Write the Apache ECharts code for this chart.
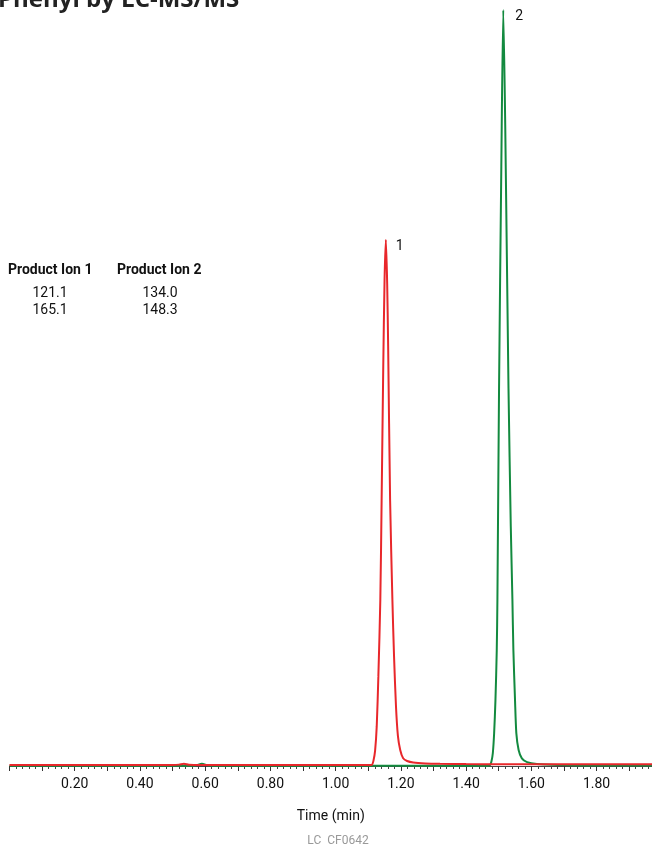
<!DOCTYPE html>
<html>
<head>
<meta charset="utf-8">
<script src="https://cdn.jsdelivr.net/npm/echarts@6/dist/echarts.min.js"></script>
<style>
html,body{margin:0;padding:0;background:#fff;}
#chart{width:652px;height:846px;}
</style>
</head>
<body>
<div id="chart"></div>
<script>
// Retention time (min) and relative response (%)
var ion1Time = [0, 0.10, 0.20, 0.30, 0.40, 0.50, 0.52, 0.535, 0.55, 0.60, 0.70, 0.80, 0.90, 1.00, 1.05, 1.10,
  1.111, 1.116, 1.121, 1.126, 1.131, 1.137, 1.141, 1.146, 1.150, 1.154, 1.158, 1.161, 1.167, 1.174, 1.179,
  1.185, 1.191, 1.198, 1.207, 1.219, 1.238, 1.275, 1.32, 1.40, 1.50, 1.60, 1.70, 1.80, 1.90, 1.97];
var ion1Value = [0.12, 0.12, 0.12, 0.13, 0.12, 0.13, 0.18, 0.3, 0.16, 0.13, 0.12, 0.13, 0.12, 0.12, 0.12, 0.12,
  0.15, 0.7, 2.0, 5.2, 11.7, 21.7, 34.7, 52.2, 63.5, 68.7, 63.0, 54.8, 34.7, 21.7, 14.4,
  7.8, 3.9, 2.1, 1.0, 0.65, 0.45, 0.33, 0.28, 0.25, 0.24, 0.23, 0.22, 0.24, 0.22, 0.22];

var ion2Time = [0, 0.10, 0.20, 0.30, 0.40, 0.50, 0.57, 0.59, 0.61, 0.70, 0.80, 0.90, 1.00, 1.10, 1.20, 1.30, 1.40, 1.46,
  1.468, 1.474, 1.478, 1.482, 1.486, 1.490, 1.494, 1.496, 1.501, 1.508, 1.514, 1.520, 1.530, 1.537, 1.542,
  1.545, 1.550, 1.554, 1.561, 1.571, 1.587, 1.617, 1.689, 1.75, 1.80, 1.90, 1.97];
var ion2Value = [0.02, 0.02, 0.02, 0.02, 0.02, 0.02, 0.08, 0.28, 0.08, 0.02, 0.02, 0.02, 0.02, 0.02, 0.02, 0.02, 0.02, 0.02,
  0.03, 0.13, 0.65, 1.7, 4.3, 8.6, 15.1, 21.7, 49.3, 78.3, 98.7, 83.6, 49.3, 31.3, 21.7,
  15.1, 8.6, 4.3, 2.1, 1.0, 0.5, 0.26, 0.13, 0.08, 0.06, 0.05, 0.05];

var peakLabels = ['1', '2'];
var ionTableHeader = ['Product Ion 1', 'Product Ion 2'];
var ion1Masses = ['121.1', '165.1'];
var ion2Masses = ['134.0', '148.3'];

function pairs(t, v) { return t.map(function (x, i) { return [x, v[i]]; }); }
function apex(t, v) { var m = 0; for (var i = 1; i < v.length; i++) if (v[i] > v[m]) m = i; return [t[m], v[m]]; }

var fontFam = 'Roboto, "Noto Sans", sans-serif';
var chart = echarts.init(document.getElementById('chart'), null, {renderer: 'canvas'});

chart.setOption({
  animation: false,
  backgroundColor: '#fff',
  grid: {left: 9.5, right: 0, top: 0, bottom: 80, containLabel: false},
  xAxis: {
    type: 'value', min: 0, max: 1.97, interval: 0.1,
    name: 'Time (min)', nameLocation: 'middle', nameGap: 43,
    nameTextStyle: {fontFamily: fontFam, fontSize: 14, color: '#111'},
    axisLine: {show: true, onZero: false, lineStyle: {color: '#444', width: 1}},
    axisTick: {show: true, length: 5, lineStyle: {color: '#333', width: 1}},
    minorTick: {show: true, splitNumber: 5, length: 3, lineStyle: {color: '#444', width: 1}},
    splitLine: {show: false},
    axisLabel: {
      showMinLabel: false, showMaxLabel: false, margin: 11,
      fontFamily: fontFam, fontSize: 14, color: '#111',
      formatter: function (v) {
        var k = Math.round(v * 10);
        return (k > 0 && k % 2 === 0) ? v.toFixed(2) : '';
      }
    }
  },
  yAxis: {type: 'value', min: 0, max: 100, show: false},
  series: [
    {
      type: 'line', name: 'Ion 2', data: pairs(ion2Time, ion2Value), showSymbol: false,
      smooth: 0.25, z: 3,
      lineStyle: {color: '#138a3f', width: 2},
      markPoint: {
        symbol: 'circle', symbolSize: 0,
        data: [{coord: apex(ion2Time, ion2Value), value: peakLabels[1]}],
        label: {show: true, position: 'right', offset: [7, 7], fontFamily: fontFam, fontSize: 14, color: '#111',
          formatter: function (p) { return p.value; }}
      }
    },
    {
      type: 'line', name: 'Ion 1', data: pairs(ion1Time, ion1Value), showSymbol: false,
      smooth: 0.25, z: 4,
      lineStyle: {color: '#e8272b', width: 2},
      markPoint: {
        symbol: 'circle', symbolSize: 0,
        data: [{coord: apex(ion1Time, ion1Value), value: peakLabels[0]}],
        label: {show: true, position: 'right', offset: [5, 7], fontFamily: fontFam, fontSize: 14, color: '#111',
          formatter: function (p) { return p.value; }}
      }
    }
  ],
  graphic: [
    {type: 'text', left: -2, top: -12, z: 10,
      style: {text: 'Phenyl by LC-MS/MS', font: 'bold 24px "Open Sans", sans-serif', fill: '#222'}},
    {type: 'text', left: 8, top: 263,
      style: {text: ionTableHeader[0], font: 'bold 14px ' + fontFam, fill: '#111'}},
    {type: 'text', left: 117, top: 263,
      style: {text: ionTableHeader[1], font: 'bold 14px ' + fontFam, fill: '#111'}},
    {type: 'text', x: 50, y: 293, style: {text: ion1Masses[0], font: '14px ' + fontFam, fill: '#111', align: 'center', verticalAlign: 'middle'}},
    {type: 'text', x: 50, y: 310, style: {text: ion1Masses[1], font: '14px ' + fontFam, fill: '#111', align: 'center', verticalAlign: 'middle'}},
    {type: 'text', x: 160, y: 293, style: {text: ion2Masses[0], font: '14px ' + fontFam, fill: '#111', align: 'center', verticalAlign: 'middle'}},
    {type: 'text', x: 160, y: 310, style: {text: ion2Masses[1], font: '14px ' + fontFam, fill: '#111', align: 'center', verticalAlign: 'middle'}},
    {type: 'text', x: 338, y: 841, style: {text: 'LC  CF0642', font: '12px ' + fontFam, fill: '#999', align: 'center', verticalAlign: 'middle'}}
  ]
});
</script>
</body>
</html>
